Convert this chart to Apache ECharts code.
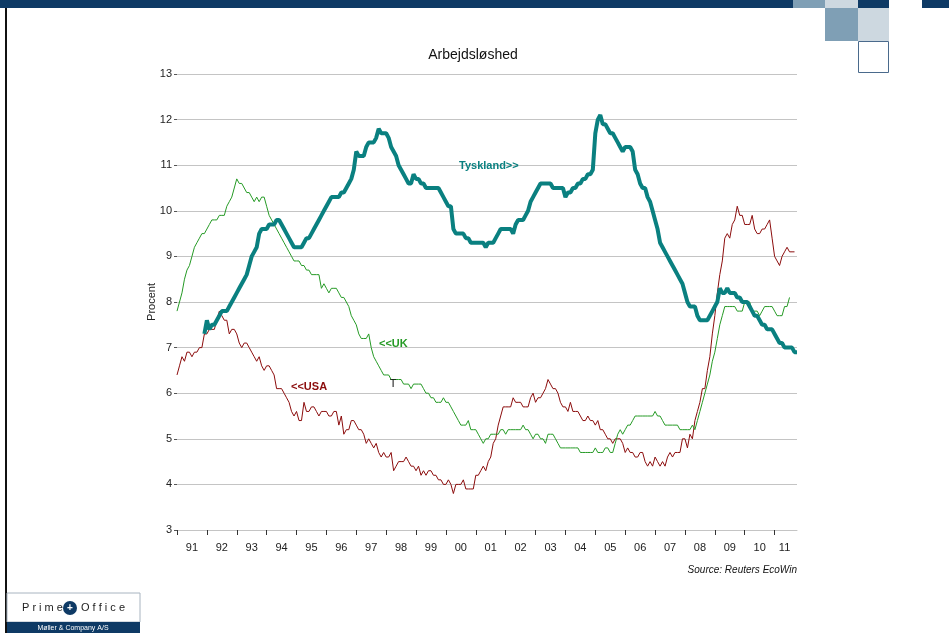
<!DOCTYPE html>
<html>
<head>
<meta charset="utf-8">
<script src="https://cdn.jsdelivr.net/npm/echarts@6/dist/echarts.min.js"></script>
<style>
  html, body { margin: 0; padding: 0; background: #fff; }
  #chart_line { width: 949px; height: 633px; }
</style>
</head>
<body>
<div id="chart_line"></div>
<script>
// monthly values, Jan 1991 onwards
const startYear = 1991
const monthCount = 250
const yearLabels = ['91', '92', '93', '94', '95', '96', '97', '98', '99', '00', '01',
  '02', '03', '04', '05', '06', '07', '08', '09', '10', '11']

const usa = [
  6.4, 6.6, 6.8, 6.7, 6.9, 6.9, 6.8, 6.9, 6.9, 7.0, 7.0, 7.3,
  7.3, 7.4, 7.4, 7.4, 7.6, 7.8, 7.7, 7.6, 7.6, 7.3, 7.4, 7.4,
  7.3, 7.1, 7.0, 7.1, 7.1, 7.0, 6.9, 6.8, 6.7, 6.8, 6.6, 6.5,
  6.6, 6.6, 6.5, 6.4, 6.1, 6.1, 6.1, 6.0, 5.9, 5.8, 5.6, 5.5,
  5.6, 5.4, 5.4, 5.8, 5.6, 5.6, 5.7, 5.7, 5.6, 5.5, 5.6, 5.6,
  5.6, 5.5, 5.5, 5.6, 5.6, 5.3, 5.5, 5.1, 5.2, 5.2, 5.4, 5.4,
  5.3, 5.2, 5.2, 5.1, 4.9, 5.0, 4.9, 4.8, 4.9, 4.7, 4.6, 4.7,
  4.6, 4.6, 4.7, 4.3, 4.4, 4.5, 4.5, 4.5, 4.6, 4.5, 4.4, 4.4,
  4.3, 4.4, 4.2, 4.3, 4.2, 4.3, 4.3, 4.2, 4.2, 4.1, 4.1, 4.0,
  4.0, 4.1, 4.0, 3.8, 4.0, 4.0, 4.0, 4.1, 3.9, 3.9, 3.9, 3.9,
  4.2, 4.2, 4.3, 4.4, 4.3, 4.5, 4.6, 4.9, 5.0, 5.3, 5.5, 5.7,
  5.7, 5.7, 5.7, 5.9, 5.8, 5.8, 5.8, 5.7, 5.7, 5.7, 5.9, 6.0,
  5.8, 5.9, 5.9, 6.0, 6.1, 6.3, 6.2, 6.1, 6.1, 6.0, 5.8, 5.7,
  5.7, 5.6, 5.8, 5.6, 5.6, 5.6, 5.5, 5.4, 5.4, 5.5, 5.4, 5.4,
  5.3, 5.4, 5.2, 5.2, 5.1, 5.0, 5.0, 4.9, 5.0, 5.0, 5.0, 4.9,
  4.7, 4.8, 4.7, 4.7, 4.6, 4.6, 4.7, 4.7, 4.5, 4.4, 4.5, 4.4,
  4.6, 4.5, 4.4, 4.5, 4.4, 4.6, 4.7, 4.6, 4.7, 4.7, 4.7, 5.0,
  5.0, 4.8, 5.1, 5.0, 5.4, 5.6, 5.8, 6.1, 6.1, 6.5, 6.8, 7.3,
  7.7, 8.2, 8.6, 8.9, 9.4, 9.5, 9.4, 9.7, 9.8, 10.1, 9.9, 9.9,
  9.7, 9.7, 9.7, 9.9, 9.6, 9.5, 9.5, 9.6, 9.6, 9.7, 9.8, 9.4,
  9.0, 8.9, 8.8, 9.0, 9.1, 9.2, 9.1, 9.1, 9.1
]

const uk = [
  7.8, 8.0, 8.2, 8.5, 8.7, 8.8, 9.0, 9.2, 9.3, 9.4, 9.5, 9.5,
  9.6, 9.7, 9.8, 9.8, 9.8, 9.9, 9.9, 9.9, 10.1, 10.2, 10.3, 10.5,
  10.7, 10.6, 10.6, 10.5, 10.4, 10.4, 10.3, 10.2, 10.3, 10.2, 10.3, 10.3,
  10.1, 9.9, 9.8, 9.7, 9.6, 9.5, 9.4, 9.3, 9.2, 9.1, 9.0, 8.9,
  8.9, 8.9, 8.8, 8.8, 8.7, 8.7, 8.6, 8.6, 8.6, 8.6, 8.3, 8.4,
  8.3, 8.2, 8.3, 8.3, 8.3, 8.2, 8.1, 8.1, 8.0, 7.9, 7.7, 7.6,
  7.5, 7.3, 7.2, 7.2, 7.2, 7.3, 7.0, 6.8, 6.7, 6.6, 6.5, 6.4,
  6.4, 6.4, 6.3, 6.3, 6.3, 6.3, 6.3, 6.2, 6.2, 6.2, 6.1, 6.2,
  6.2, 6.2, 6.2, 6.1, 6.0, 6.0, 5.9, 5.9, 5.8, 5.8, 5.8, 5.9,
  5.8, 5.8, 5.7, 5.6, 5.5, 5.4, 5.3, 5.3, 5.3, 5.4, 5.2, 5.2,
  5.2, 5.1, 5.0, 4.9, 5.0, 5.0, 5.1, 5.1, 5.1, 5.1, 5.2, 5.2,
  5.1, 5.2, 5.2, 5.2, 5.2, 5.2, 5.2, 5.3, 5.2, 5.2, 5.1, 5.0,
  5.1, 5.1, 5.0, 5.0, 4.9, 5.1, 5.1, 5.1, 5.0, 4.9, 4.8, 4.8,
  4.8, 4.8, 4.8, 4.8, 4.8, 4.8, 4.7, 4.7, 4.7, 4.7, 4.7, 4.7,
  4.8, 4.7, 4.7, 4.7, 4.8, 4.8, 4.7, 4.7, 4.9, 5.1, 5.2, 5.1,
  5.2, 5.3, 5.3, 5.4, 5.5, 5.5, 5.5, 5.5, 5.5, 5.5, 5.5, 5.5,
  5.6, 5.5, 5.5, 5.4, 5.3, 5.3, 5.3, 5.3, 5.3, 5.3, 5.2, 5.2,
  5.2, 5.2, 5.2, 5.3, 5.2, 5.4, 5.6, 5.8, 6.0, 6.2, 6.4, 6.7,
  6.9, 7.2, 7.5, 7.7, 7.9, 7.9, 7.9, 7.9, 7.9, 7.8, 7.8, 7.8,
  8.0, 8.0, 8.0, 7.8, 7.8, 7.8, 7.7, 7.8, 7.9, 7.9, 7.9, 7.9,
  7.8, 7.7, 7.7, 7.7, 7.9, 7.9, 8.1
]

// Tyskland starts Dec 1991 (month index 11)
const germanyStart = 11
const germany = [
  7.3,
  7.6, 7.4, 7.5, 7.5, 7.6, 7.7, 7.8, 7.8, 7.8, 7.9, 8.0, 8.1,
  8.2, 8.3, 8.4, 8.5, 8.6, 8.8, 9.0, 9.1, 9.2, 9.5, 9.6, 9.6,
  9.6, 9.7, 9.7, 9.7, 9.8, 9.8, 9.7, 9.6, 9.5, 9.4, 9.3, 9.2,
  9.2, 9.2, 9.2, 9.3, 9.4, 9.4, 9.5, 9.6, 9.7, 9.8, 9.9, 10.0,
  10.1, 10.2, 10.3, 10.3, 10.3, 10.3, 10.4, 10.4, 10.5, 10.6, 10.7, 10.9,
  11.3, 11.2, 11.2, 11.2, 11.4, 11.5, 11.5, 11.5, 11.6, 11.8, 11.7, 11.7,
  11.7, 11.6, 11.4, 11.3, 11.2, 11.0, 10.9, 10.8, 10.7, 10.6, 10.6, 10.8,
  10.7, 10.7, 10.6, 10.6, 10.5, 10.5, 10.5, 10.5, 10.5, 10.5, 10.4, 10.3,
  10.2, 10.1, 10.1, 9.6, 9.5, 9.5, 9.5, 9.5, 9.4, 9.4, 9.3, 9.3,
  9.3, 9.3, 9.3, 9.3, 9.2, 9.3, 9.3, 9.3, 9.4, 9.5, 9.6, 9.6,
  9.6, 9.6, 9.6, 9.5, 9.7, 9.8, 9.8, 9.8, 9.9, 10.0, 10.2, 10.3,
  10.4, 10.5, 10.6, 10.6, 10.6, 10.6, 10.6, 10.5, 10.5, 10.5, 10.5, 10.5,
  10.3, 10.4, 10.4, 10.5, 10.5, 10.6, 10.6, 10.7, 10.7, 10.8, 10.8, 10.9,
  11.7, 12.0, 12.1, 11.9, 11.9, 11.8, 11.7, 11.7, 11.6, 11.5, 11.4, 11.3,
  11.4, 11.4, 11.4, 11.3, 10.9, 10.8, 10.6, 10.5, 10.5, 10.3, 10.2, 10.0,
  9.8, 9.6, 9.3, 9.2, 9.1, 9.0, 8.9, 8.8, 8.7, 8.6, 8.5, 8.4,
  8.2, 8.0, 7.9, 7.9, 7.9, 7.7, 7.6, 7.6, 7.6, 7.6, 7.7, 7.8,
  7.9, 8.0, 8.3, 8.2, 8.2, 8.3, 8.2, 8.2, 8.2, 8.1, 8.1, 8.0,
  8.0, 8.0, 7.9, 7.8, 7.7, 7.7, 7.6, 7.5, 7.5, 7.4, 7.4, 7.4,
  7.3, 7.2, 7.1, 7.1, 7.0, 7.0, 7.0, 7.0, 6.9, 6.9
]

const months = []
for (let i = 0; i < monthCount; i++) {
  const y = startYear + Math.floor(i / 12)
  const mo = (i % 12) + 1
  months.push(y + '-' + (mo < 10 ? '0' + mo : mo))
}
// year label sits in the middle of the (possibly partial) year
const labelIndex = yearLabels.map((l, k) => Math.floor((k * 12 + Math.min(k * 12 + 12, monthCount - 1)) / 2))

const font = 'Liberation Sans'
const navy = '#0e3a65'

function txt(text, x, y, fill, f, align) {
  return {
    type: 'text',
    z: 100,
    style: { text: text, x: x, y: y, fill: fill, font: f, textAlign: align || 'left', textVerticalAlign: 'middle' }
  }
}

const chart = echarts.init(document.getElementById('chart_line'))
chart.setOption({
  animation: false,
  textStyle: { fontFamily: font },
  grid: { left: 177, right: 152, top: 74, bottom: 103 },
  xAxis: {
    type: 'category',
    boundaryGap: false,
    data: months,
    axisLine: { show: true, lineStyle: { color: '#c4c4c4', width: 1 } },
    axisTick: {
      show: true,
      length: 5,
      interval: (i) => i % 12 === 0,
      lineStyle: { color: '#333' }
    },
    axisLabel: {
      interval: (i) => labelIndex.indexOf(i) >= 0,
      formatter: (v, i) => yearLabels[labelIndex.indexOf(i)],
      margin: 12,
      fontSize: 11,
      color: '#222',
      fontFamily: font
    },
    splitLine: { show: false }
  },
  yAxis: {
    type: 'value',
    min: 3,
    max: 13,
    interval: 1,
    name: 'Procent',
    nameLocation: 'middle',
    nameGap: 20,
    nameMoveOverlap: false,
    nameTextStyle: { fontSize: 11, color: '#222', fontFamily: font },
    axisLine: { show: false },
    axisTick: { show: true, length: 3, lineStyle: { color: '#555' } },
    axisLabel: { margin: 5, fontSize: 11, color: '#222', fontFamily: font },
    splitLine: { lineStyle: { color: '#c4c4c4', width: 1 } }
  },
  series: [
    {
      name: 'USA',
      type: 'line',
      showSymbol: false,
      data: usa,
      lineStyle: { color: '#8b0c0c', width: 1 },
      itemStyle: { color: '#8b0c0c' }
    },
    {
      name: 'UK',
      type: 'line',
      showSymbol: false,
      data: uk,
      lineStyle: { color: '#259a25', width: 1 },
      itemStyle: { color: '#259a25' }
    },
    {
      name: 'Tyskland',
      type: 'line',
      showSymbol: false,
      data: new Array(germanyStart).fill(null).concat(germany),
      lineStyle: { color: '#0a8080', width: 4 },
      itemStyle: { color: '#0a8080' }
    }
  ],
  graphic: [
    // page frame
    { type: 'rect', shape: { x: 0, y: 0, width: 793, height: 8 }, style: { fill: navy } },
    { type: 'rect', shape: { x: 793, y: 0, width: 32, height: 8 }, style: { fill: '#7f9fb5' } },
    { type: 'rect', shape: { x: 825, y: 0, width: 33, height: 8 }, style: { fill: '#cdd8e0' } },
    { type: 'rect', shape: { x: 858, y: 0, width: 31, height: 8 }, style: { fill: navy } },
    { type: 'rect', shape: { x: 922, y: 0, width: 27, height: 8 }, style: { fill: navy } },
    { type: 'rect', shape: { x: 825, y: 8, width: 33, height: 33 }, style: { fill: '#7f9fb5' } },
    { type: 'rect', shape: { x: 858, y: 8, width: 31, height: 33 }, style: { fill: '#cdd8e0' } },
    { type: 'rect', shape: { x: 858.5, y: 41.5, width: 30, height: 31 }, style: { fill: '#fff', stroke: '#4a6a8c', lineWidth: 1 } },
    { type: 'rect', shape: { x: 5, y: 8, width: 2, height: 625 }, style: { fill: '#111' } },
    // logo
    { type: 'rect', shape: { x: 7, y: 593, width: 133, height: 29 }, style: { fill: '#fff', stroke: '#a8b4c0', lineWidth: 1 } },
    { type: 'rect', shape: { x: 7, y: 622, width: 133, height: 11 }, style: { fill: navy } },
    txt('P r i m e', 22, 608, '#222', '11px ' + font),
    { type: 'circle', z: 100, shape: { cx: 70, cy: 608, r: 7 }, style: { fill: navy } },
    txt('+', 70, 608, '#fff', 'bold 10px ' + font, 'center'),
    txt('O f f i c e', 81, 608, '#222', '11px ' + font),
    txt('Møller & Company A/S', 73, 628, '#fff', '7px ' + font, 'center'),
    // chart texts
    txt('Arbejdsløshed', 473, 55, '#111', '14px ' + font, 'center'),
    txt('Tyskland>>', 459, 166, '#0a8080', 'bold 11px ' + font),
    txt('<<UK', 379, 344, '#259a25', 'bold 11px ' + font),
    txt('<<USA', 291, 387, '#8b0c0c', 'bold 11px ' + font),
    txt('T', 393, 384, '#111', '11px ' + font, 'center'),
    txt('Source: Reuters EcoWin', 797, 570, '#111', 'italic 10px ' + font, 'right')
  ]
})
</script>
</body>
</html>
